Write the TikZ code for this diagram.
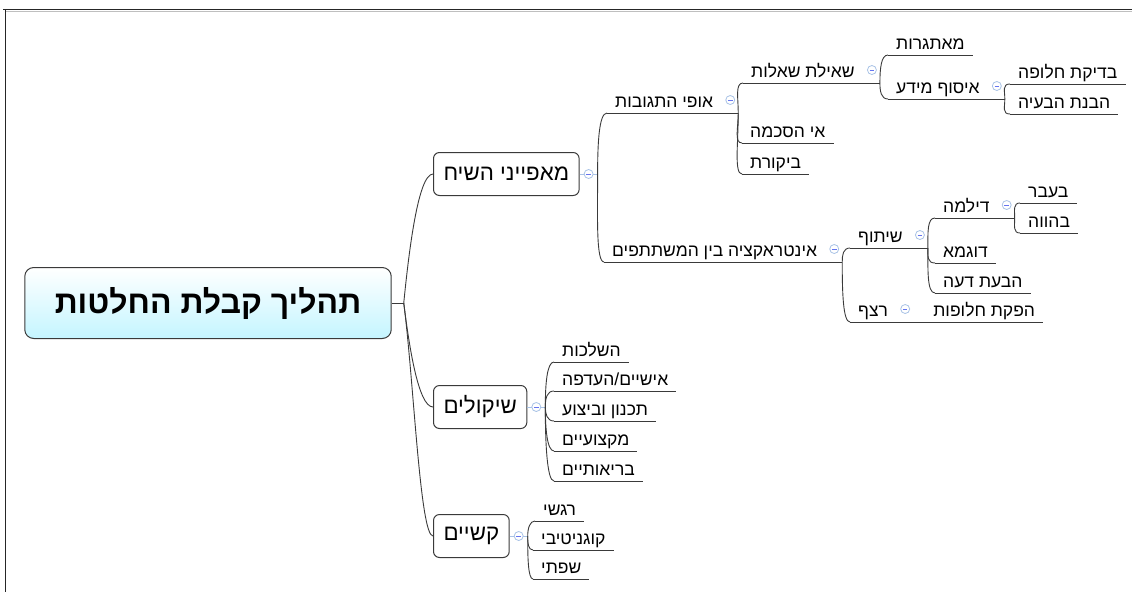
\documentclass[tikz,border=0pt]{standalone}
\usepackage{fontspec}
\newfontfamily\hebfont[Script=Hebrew]{Liberation Sans}
\TeXXeTstate=1
\newcommand{\heb}[1]{{\hebfont\beginR #1\endR}}
\definecolor{linegray}{HTML}{3A3A3A}
\definecolor{foldblue}{HTML}{A9C3E6}
\definecolor{rootcyan}{HTML}{C4F5FF}
\tikzset{
  rootbox/.style={draw=linegray, line width=1pt, rounded corners=9pt, top color=white, bottom color=rootcyan,
    minimum height=71pt, inner xsep=30pt, font=\fontsize{32}{36}\selectfont\bfseries},
  mainbox/.style={draw=linegray, line width=1pt, rounded corners=6pt, fill=white, minimum height=43pt,
    inner xsep=10pt, anchor=west, font=\fontsize{22.3}{26}\selectfont},
  topic/.style={anchor=south west, inner xsep=8pt, inner ysep=5.5pt, text depth=0pt, font=\fontsize{17.5}{20}\selectfont},
  foldtopic/.style={topic, execute at end node={\hspace{17pt}}},
  fold/.style={circle, draw=foldblue, fill=white, line width=0.8pt, minimum size=9pt, inner sep=0pt,
    path picture={\draw[foldblue!60!blue, line width=0.8pt] ([xshift=-2.3pt]path picture bounding box.center) -- ([xshift=2.3pt]path picture bounding box.center);}},
  branch/.style={draw=linegray, line width=0.9pt},
  foldline/.style={draw=foldblue, line width=0.9pt},
}
\begin{document}
\begin{tikzpicture}[x=1pt, y=-1pt]
  \useasboundingbox (0,0) rectangle (1132,592);
  % frame
  \draw[black!85, line width=1.5pt] (3,9.5) -- (1132,9.5);
  \draw[black!25, line width=0.8pt] (6,11.2) -- (1132,11.2);
  \draw[black!85, line width=1.5pt] (5.5,9.5) -- (5.5,592);

  % root and main topics
  \node[rootbox] (main) at (208,303) {\heb{תהליך קבלת החלטות}};
  \coordinate (j0) at ([xshift=12pt]main.east);
  \draw[branch] (main.east) -- (j0);

  \node[mainbox] (talk) at (433,174) {\heb{מאפייני השיח}};
  \node[mainbox] (cons) at (433,407) {\heb{שיקולים}};
  \node[mainbox] (diff) at (433,536) {\heb{קשיים}};

  \draw[branch] (j0) .. controls +(5,-50) and +(-15,0) .. (talk.west);
  \draw[branch] (j0) .. controls +(5,40) and +(-15,0) .. (cons.west);
  \draw[branch] (j0) .. controls +(10,77) and +(-13,0) .. (diff.west);

  \foreach \m in {talk,cons,diff} {
    \coordinate (\m-j) at ([xshift=18pt]\m.east);
    \draw[foldline] (\m.east) -- (\m-j);
    \node[fold] (\m-f) at ([xshift=9pt]\m.east) {};
  }

  % first branch
  \node[foldtopic] (resp) at (607,113) {\heb{אופי התגובות}};
  \node[foldtopic] (inter) at (604,262) {\heb{אינטראקציה בין המשתתפים}};

  \node[foldtopic] (ask) at (743,83) {\heb{שאילת שאלות}};
  \node[topic] (disagree) at (742,143) {\heb{אי הסכמה}};
  \node[topic] (critic) at (742,174) {\heb{ביקורת}};

  \node[topic] (challenge) at (888,55) {\heb{מאתגרות}};
  \node[foldtopic] (gather) at (888,99) {\heb{איסוף מידע}};

  \node[topic] (altcheck) at (1010,84) {\heb{בדיקת חלופה}};
  \node[topic] (problem) at (1010,114) {\heb{הבנת הבעיה}};

  \node[foldtopic] (share) at (850,248) {\heb{שיתוף}};
  \node[foldtopic] (seq) at (850,322) {\heb{רצף}};
  \node[topic] (alts) at ([xshift=12pt]seq.south east) {\heb{הפקת חלופות}};

  \node[foldtopic] (dilemma) at (935,218) {\heb{דילמה}};
  \node[topic] (example) at (935,263) {\heb{דוגמא}};
  \node[topic] (opinion) at (935,293) {\heb{הבעת דעה}};

  \node[topic] (past) at (1020,203) {\heb{בעבר}};
  \node[topic] (present) at (1020,233) {\heb{בהווה}};

  % second branch
  \node[topic] (impl) at (554,362) {\heb{השלכות}};
  \node[topic] (pers) at (554,391) {\heb{אישיים/העדפה}};
  \node[topic] (plan) at (554,421) {\heb{תכנון וביצוע}};
  \node[topic] (prof) at (554,451) {\heb{מקצועיים}};
  \node[topic] (health) at (554,481) {\heb{בריאותיים}};

  % third branch
  \node[topic] (emo) at (535,521) {\heb{רגשי}};
  \node[topic] (cog) at (533,550) {\heb{קוגניטיבי}};
  \node[topic] (lang) at (533,579) {\heb{שפתי}};

  % underlines
  \foreach \n in {resp,inter,ask,disagree,critic,challenge,gather,altcheck,problem,share,seq,alts,
                  dilemma,example,opinion,past,present,impl,pers,plan,prof,health,emo,cog,lang}
    \draw[branch] (\n.south west) -- (\n.south east);
  \foreach \n in {resp,inter,ask,gather,share,seq,dilemma}
    \node[fold] (\n-f) at ([xshift=-8pt,yshift=13pt]\n.south east) {};

  % brackets
  \foreach \n/\k in {resp/-31,inter/43}
    \draw[branch] (talk-j) .. controls +(0,\k) and +(-8,0) .. (\n.south west);
  \foreach \n/\k in {ask/-15,disagree/15,critic/30}
    \draw[branch] (resp.south east) .. controls +(0,\k) and +(-8,0) .. (\n.south west);
  \foreach \n/\k in {challenge/-14,gather/8}
    \draw[branch] (ask.south east) .. controls +(0,\k) and +(-7,0) .. (\n.south west);
  \foreach \n/\k in {altcheck/-8,problem/8}
    \draw[branch] (gather.south east) .. controls +(0,\k) and +(-8,0) .. (\n.south west);
  \foreach \n/\k in {share/-7,seq/30}
    \draw[branch] (inter.south east) .. controls +(0,\k) and +(-7,0) .. (\n.south west);
  \foreach \n/\k in {dilemma/-15,example/8,opinion/22}
    \draw[branch] (share.south east) .. controls +(0,\k) and +(-8,0) .. (\n.south west);
  \foreach \n/\k in {past/-8,present/8}
    \draw[branch] (dilemma.south east) .. controls +(0,\k) and +(-7,0) .. (\n.south west);
  \draw[branch] (seq.south east) -- (alts.south west);
  \foreach \n/\k in {impl/-23,pers/-9,plan/7,prof/21,health/36}
    \draw[branch] (cons-j) .. controls +(0,\k) and +(-7,0) .. (\n.south west);
  \foreach \n/\k in {emo/-8,cog/7,lang/21}
    \draw[branch] (diff-j) .. controls +(0,\k) and +(-5,0) .. (\n.south west);
\end{tikzpicture}
\end{document}
